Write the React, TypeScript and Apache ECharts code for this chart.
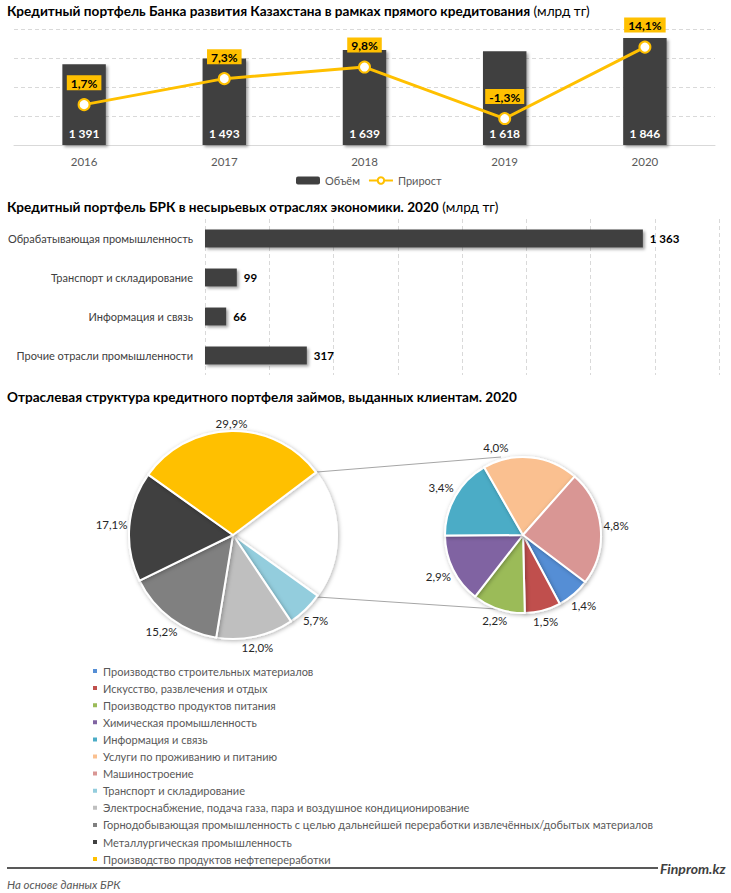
import React, { useEffect, useRef } from "react";
import * as echarts from "echarts";

const years = ["2016", "2017", "2018", "2019", "2020"];
const volume = [1391, 1493, 1639, 1618, 1846];
const growth = [1.7, 7.3, 9.8, -1.3, 14.1];

const sectors = [
  "Обрабатывающая промышленность",
  "Транспорт и складирование",
  "Информация и связь",
  "Прочие отрасли промышленности",
];
const sectorValues = [1363, 99, 66, 317];

const detailNames = [
  "Производство строительных материалов",
  "Искусство, развлечения и отдых",
  "Производство продуктов питания",
  "Химическая промышленность",
  "Информация и связь",
  "Услуги по проживанию и питанию",
  "Машиностроение",
];
const detailValues = [1.4, 1.5, 2.2, 2.9, 3.4, 4.0, 4.8];
const detailColors = ["#558ED5", "#C0504D", "#9BBB59", "#8064A2", "#4BACC6", "#FAC090", "#D99694"];

const mainNames = [
  "Транспорт и складирование ",
  "Электроснабжение, подача газа, пара и воздушное кондиционирование",
  "Горнодобывающая промышленность с целью дальнейшей переработки извлечённых/добытых материалов",
  "Металлургическая промышленность",
  "Производство продуктов нефтепереработки",
];
const mainValues = [5.7, 12.0, 15.2, 17.1, 29.9];
const mainColors = ["#93CDDD", "#BFBFBF", "#808080", "#404040", "#FFC000"];
const otherName = "Прочие";

const FONT = "Lato, 'Open Sans', sans-serif";

const fmtThousands = (v: number) => String(v).replace(/\B(?=(\d{3})+(?!\d))/g, " ");
const fmtPct = (v: number) => v.toFixed(1).replace(".", ",") + "%";

export default function App() {
  const ref = useRef<HTMLDivElement>(null);

  useEffect(() => {
    document.body.style.margin = "0";
    const chart = echarts.init(ref.current!, null, { renderer: "svg" });
    const otherValue = detailValues.reduce((a, b) => a + b, 0);

    const titleRich = {
      b: { fontFamily: FONT, fontWeight: "bold" as const, fontSize: 13.6, color: "#000" },
      n: { fontFamily: FONT, fontWeight: "normal" as const, fontSize: 13.6, color: "#000" },
    };

    const MAIN_C = [233, 535];
    const MAIN_R = 104;
    const DET_C = [523, 535];
    const DET_R = 78;

    // push each inside label radially out of its slice, just past the rim
    const outerLayout = (C: number[], R: number, gap: number, shifts: Record<number, number[]>) => (p: any) => {
      const r = p.labelRect;
      const lx = r.x + r.width / 2;
      const ly = r.y + r.height / 2;
      let dx = lx - C[0];
      let dy = ly - C[1];
      const len = Math.hypot(dx, dy) || 1;
      dx /= len;
      dy /= len;
      const d = R + gap + (Math.abs(dx) * r.width) / 2 + (Math.abs(dy) * r.height) / 2;
      const s = shifts[p.dataIndex] || [0, 0];
      return { x: C[0] + dx * d + s[0], y: C[1] + dy * d + s[1], align: "center", verticalAlign: "middle" };
    };

    const pieStyle = {
      borderColor: "#fff",
      borderWidth: 2,
      shadowColor: "rgba(0,0,0,0.3)",
      shadowBlur: 4,
      shadowOffsetX: 1,
      shadowOffsetY: 1,
    };
    const pieLabel = {
      show: true,
      position: "inside",
      color: "#262626",
      fontSize: 11.5,
      fontFamily: FONT,
      formatter: (p: any) => fmtPct(p.value),
    };

    const option: any = {
      animation: false,
      backgroundColor: "#fff",
      textStyle: { fontFamily: FONT },
      title: [
        {
          text: "{b|Кредитный портфель Банка развития Казахстана в рамках прямого кредитования}{n| (млрд тг)}",
          left: 7,
          top: 4,
          padding: 0,
          textStyle: { rich: titleRich },
        },
        {
          text: "{b|Кредитный портфель БРК в несырьевых отраслях экономики. 2020}{n| (млрд тг)}",
          left: 7,
          top: 200,
          padding: 0,
          textStyle: { rich: titleRich },
        },
        {
          text: "{b|Отраслевая структура кредитного портфеля займов, выданных клиентам. 2020}",
          left: 7,
          top: 390,
          padding: 0,
          textStyle: { rich: titleRich },
        },
      ],
      legend: [
        {
          left: 296,
          top: 175,
          padding: 0,
          itemWidth: 24,
          itemHeight: 8,
          itemGap: 8,
          data: ["Объём", "Прирост"],
          textStyle: { fontFamily: FONT, fontSize: 11, color: "#595959" },
          selectedMode: false,
        },
        {
          orient: "vertical",
          left: 91,
          top: 665,
          padding: 0,
          itemWidth: 6,
          itemHeight: 6,
          itemGap: 5.1,
          icon: "rect",
          selectedMode: false,
          data: [...detailNames, ...mainNames],
          textStyle: { fontFamily: FONT, fontSize: 11, lineHeight: 12, color: "#595959" },
        },
      ],
      grid: [
        { left: 14, right: 16, top: 29, height: 116, outerBoundsMode: "none" },
        { left: 205, right: 12, top: 219, height: 156, outerBoundsMode: "none" },
      ],
      xAxis: [
        {
          type: "category",
          gridIndex: 0,
          data: years,
          axisLine: { lineStyle: { color: "#D9D9D9" } },
          axisTick: { show: false },
          axisLabel: { color: "#595959", fontSize: 11.5, margin: 10, fontFamily: FONT },
        },
        {
          type: "value",
          gridIndex: 1,
          min: 0,
          max: 1600,
          interval: 200,
          axisLabel: { show: false },
          axisLine: { show: false },
          axisTick: { show: false },
          splitLine: { lineStyle: { color: "#D9D9D9", type: [4, 3] } },
        },
      ],
      yAxis: [
        {
          type: "value",
          gridIndex: 0,
          min: 0,
          max: 2000,
          interval: 500,
          axisLabel: { show: false },
          axisLine: { show: false },
          axisTick: { show: false },
          splitLine: { lineStyle: { color: "#D9D9D9", type: [4, 3] } },
        },
        {
          type: "value",
          gridIndex: 0,
          min: -7,
          max: 18,
          axisLabel: { show: false },
          axisLine: { show: false },
          axisTick: { show: false },
          splitLine: { show: false },
        },
        {
          type: "category",
          gridIndex: 1,
          data: sectors,
          inverse: true,
          axisLine: { show: false },
          axisTick: { show: false },
          axisLabel: { color: "#404040", fontSize: 11, margin: 12, fontFamily: FONT },
        },
      ],
      series: [
        {
          name: "Объём",
          type: "bar",
          xAxisIndex: 0,
          yAxisIndex: 0,
          data: volume,
          barWidth: "31%",
          itemStyle: {
            color: "#404040",
            shadowColor: "rgba(0,0,0,0.35)",
            shadowBlur: 3,
            shadowOffsetX: 2,
            shadowOffsetY: 2,
          },
          label: {
            show: true,
            position: "insideBottom",
            distance: 6,
            color: "#fff",
            fontWeight: "bold",
            fontSize: 12,
            fontFamily: FONT,
            formatter: (p: any) => fmtThousands(p.value),
          },
        },
        {
          name: "Прирост",
          type: "line",
          xAxisIndex: 0,
          yAxisIndex: 1,
          data: growth,
          symbol: "circle",
          symbolSize: 11,
          lineStyle: { color: "#FFC000", width: 3 },
          itemStyle: { color: "#fff", borderColor: "#FFC000", borderWidth: 2 },
          label: {
            show: true,
            position: "top",
            distance: 8,
            backgroundColor: "#FFC000",
            padding: [2, 4, 1, 4],
            color: "#000",
            fontWeight: "bold",
            fontSize: 12,
            fontFamily: FONT,
            formatter: (p: any) => fmtPct(p.value),
          },
          z: 5,
        },
        {
          name: "Сектор",
          type: "bar",
          xAxisIndex: 1,
          yAxisIndex: 2,
          data: sectorValues,
          barWidth: "46%",
          itemStyle: {
            color: "#404040",
            shadowColor: "rgba(0,0,0,0.35)",
            shadowBlur: 3,
            shadowOffsetX: 2,
            shadowOffsetY: 2,
          },
          label: {
            show: true,
            position: "right",
            distance: 7,
            color: "#000",
            fontWeight: "bold",
            fontSize: 11.5,
            fontFamily: FONT,
            formatter: (p: any) => fmtThousands(p.value),
          },
        },
        {
          name: "main",
          type: "pie",
          center: MAIN_C,
          radius: MAIN_R,
          startAngle: 37,
          clockwise: true,
          data: [
            { name: otherName, value: otherValue, itemStyle: { color: "#fff" }, label: { show: false } },
            ...mainNames.map((n, i) => ({ name: n, value: mainValues[i], itemStyle: { color: mainColors[i] } })),
          ],
          itemStyle: pieStyle,
          label: pieLabel,
          labelLine: { show: false },
          labelLayout: outerLayout(MAIN_C, MAIN_R, 1.5, {}),
          emphasis: { disabled: true },
        },
        {
          name: "detail",
          type: "pie",
          center: DET_C,
          radius: DET_R,
          startAngle: -37,
          clockwise: true,
          data: detailNames.map((n, i) => ({ name: n, value: detailValues[i], itemStyle: { color: detailColors[i] } })),
          itemStyle: pieStyle,
          label: pieLabel,
          labelLine: { show: false },
          labelLayout: outerLayout(DET_C, DET_R, 2.5, { 5: [-36, 0] }),
          emphasis: { disabled: true },
        },
      ],
      graphic: [
        { type: "line", shape: { x1: 317, y1: 472, x2: 501, y2: 457 }, style: { stroke: "#A6A6A6", lineWidth: 1 }, z: 0 },
        { type: "line", shape: { x1: 317, y1: 597, x2: 511, y2: 610 }, style: { stroke: "#A6A6A6", lineWidth: 1 }, z: 0 },
        { type: "line", shape: { x1: 7, y1: 868, x2: 658, y2: 868 }, style: { stroke: "#595959", lineWidth: 2 } },
        {
          type: "text",
          x: 660,
          y: 868,
          style: {
            text: "Finprom.kz",
            fill: "#404040",
            font: "italic bold 14px " + FONT,
            textVerticalAlign: "middle",
          },
        },
        {
          type: "text",
          x: 7,
          y: 884,
          style: {
            text: "На основе данных БРК",
            fill: "#595959",
            font: "italic 11.5px " + FONT,
            textVerticalAlign: "middle",
          },
        },
      ],
    };

    chart.setOption(option);
    return () => chart.dispose();
  }, []);

  return <div ref={ref} style={{ width: 731, height: 893 }} />;
}
